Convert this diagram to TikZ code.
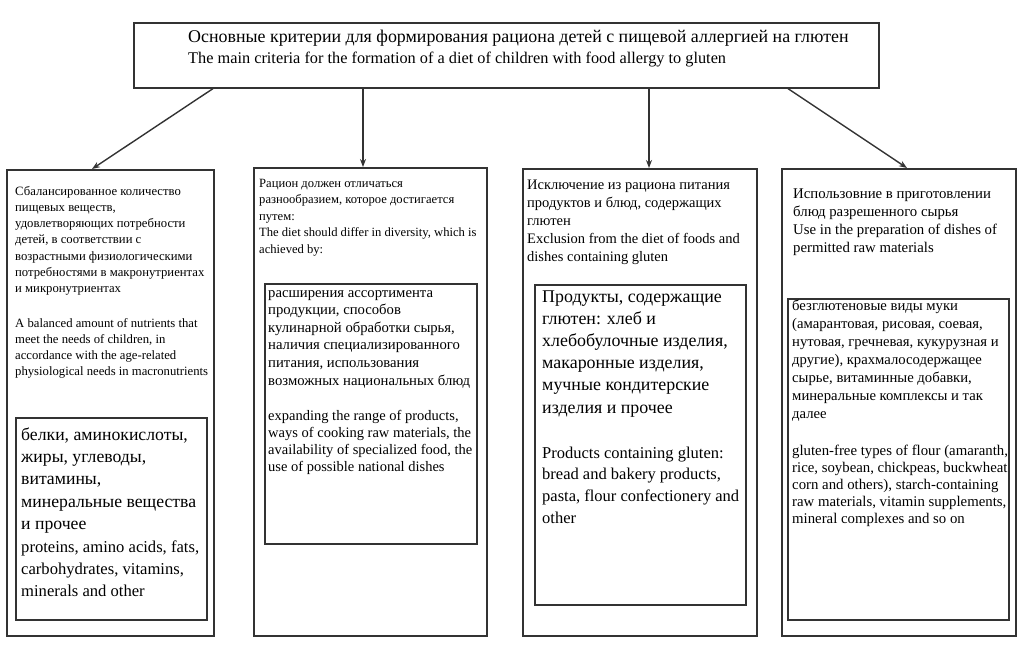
\documentclass[tikz,border=0pt]{standalone}
\usepackage{fontspec}
\setmainfont{Liberation Serif}
\usetikzlibrary{arrows.meta}
\newcommand{\fs}[2]{\fontsize{#1pt}{#2pt}\selectfont}
\begin{document}
\begin{tikzpicture}[x=1pt,y=-1pt,
  box/.style={draw=black!80,line width=1.6pt,inner sep=0pt,anchor=north west},
  txt/.style={anchor=base west,inner sep=0pt,align=left,text=black},
  arr/.style={draw=black!80,line width=1.4pt,-{Stealth[length=8pt,width=6pt]}}]
\useasboundingbox (0,0) rectangle (1018,646);
% boxes
\node[box,minimum width=745pt,minimum height=65pt] (top) at (133,22) {};
\node[box,minimum width=207pt,minimum height=466pt] (c1) at (6,169) {};
\node[box,minimum width=191pt,minimum height=202pt] (i1) at (15,417) {};
\node[box,minimum width=233pt,minimum height=468pt] (c2) at (253,167) {};
\node[box,minimum width=212pt,minimum height=260pt] (i2) at (264,283) {};
\node[box,minimum width=234pt,minimum height=467pt] (c3) at (522,168) {};
\node[box,minimum width=211pt,minimum height=320pt] (i3) at (534,284) {};
\node[box,minimum width=234pt,minimum height=467pt] (c4) at (781,168) {};
\node[box,minimum width=221pt,minimum height=321pt] (i4) at (787,298) {};
% arrows
\draw[arr] ([xshift=80pt]top.south west) -- ([xshift=86pt]c1.north west);
\draw[arr] ([xshift=230pt]top.south west) -- ([xshift=110pt]c2.north west);
\draw[arr] ([xshift=516pt]top.south west) -- ([xshift=127pt]c3.north west);
\draw[arr] ([xshift=655pt]top.south west) -- ([xshift=126pt]c4.north west);
% texts (anchor = baseline of the last line)
\node[txt,font=\fs{17.9}{21}] (t0) at (188,42) {Основные критерии для формирования рациона детей с пищевой аллергией на глютен};
\node[txt,font=\fs{16.3}{21}] (t0e) at (188,63) {The main criteria for the formation of a diet of children with food allergy to gluten};
\node[txt,font=\fs{12.7}{16.3}] (t1) at (15,292.8) {Сбалансированное количество\\пищевых веществ,\\удовлетворяющих потребности\\детей, в соответствии с\\возрастными физиологическими\\потребностями в макронутриентах\\и микронутриентах};
\node[txt,font=\fs{12.7}{16}] (t1e) at (15,375) {A balanced amount of nutrients that\\meet the needs of children, in\\accordance with the age-related\\physiological needs in macronutrients};
\node[txt,font=\fs{17.7}{22.4}] (u1) at (21,529.6) {белки, аминокислоты,\\жиры, углеводы,\\витамины,\\минеральные вещества\\и прочее};
\node[txt,font=\fs{16.6}{22.4}] (u1e) at (21,596.8) {proteins, amino acids, fats,\\carbohydrates, vitamins,\\minerals and other};
\node[txt,font=\fs{12.6}{16.5}] (t2) at (259,253) {Рацион должен отличаться\\разнообразием, которое достигается\\путем:\\The diet should differ in diversity, which is\\achieved by:};
\node[txt,font=\fs{14.7}{17.6}] (u2) at (268,385) {расширения ассортимента\\продукции, способов\\кулинарной обработки сырья,\\наличия специализированного\\питания, использования\\возможных национальных блюд};
\node[txt,font=\fs{14.5}{17.3}] (u2e) at (268,471.9) {expanding the range of products,\\ways of cooking raw materials, the\\availability of specialized food, the\\use of possible national dishes};
\node[txt,font=\fs{14.5}{18.2}] (t3) at (527,261.8) {Исключение из рациона питания\\продуктов и блюд, содержащих\\глютен\\Exclusion from the diet of foods and\\dishes containing gluten};
\node[txt,font=\fs{17.9}{22.2}] (u3) at (542,413) {Продукты, содержащие\\глютен: хлеб и\\хлебобулочные изделия,\\макаронные изделия,\\мучные кондитерские\\изделия и прочее};
\node[txt,font=\fs{16.5}{21.7}] (u3e) at (542,523.1) {Products containing gluten:\\bread and bakery products,\\pasta, flour confectionery and\\other};
\node[txt,font=\fs{14.8}{18}] (t4) at (793,252) {Использовние в приготовлении\\блюд разрешенного сырья\\Use in the preparation of dishes of\\permitted raw materials};
\node[txt,font=\fs{14.7}{18}] (u4) at (792,418) {безглютеновые виды муки\\(амарантовая, рисовая, соевая,\\нутовая, гречневая, кукурузная и\\другие), крахмалосодержащее\\сырье, витаминные добавки,\\минеральные комплексы и так\\далее};
\node[txt,font=\fs{14.8}{17}] (u4e) at (792,523) {gluten-free types of flour (amaranth,\\rice, soybean, chickpeas, buckwheat\\corn and others), starch-containing\\raw materials, vitamin supplements,\\mineral complexes and so on};
\end{tikzpicture}
\end{document}
